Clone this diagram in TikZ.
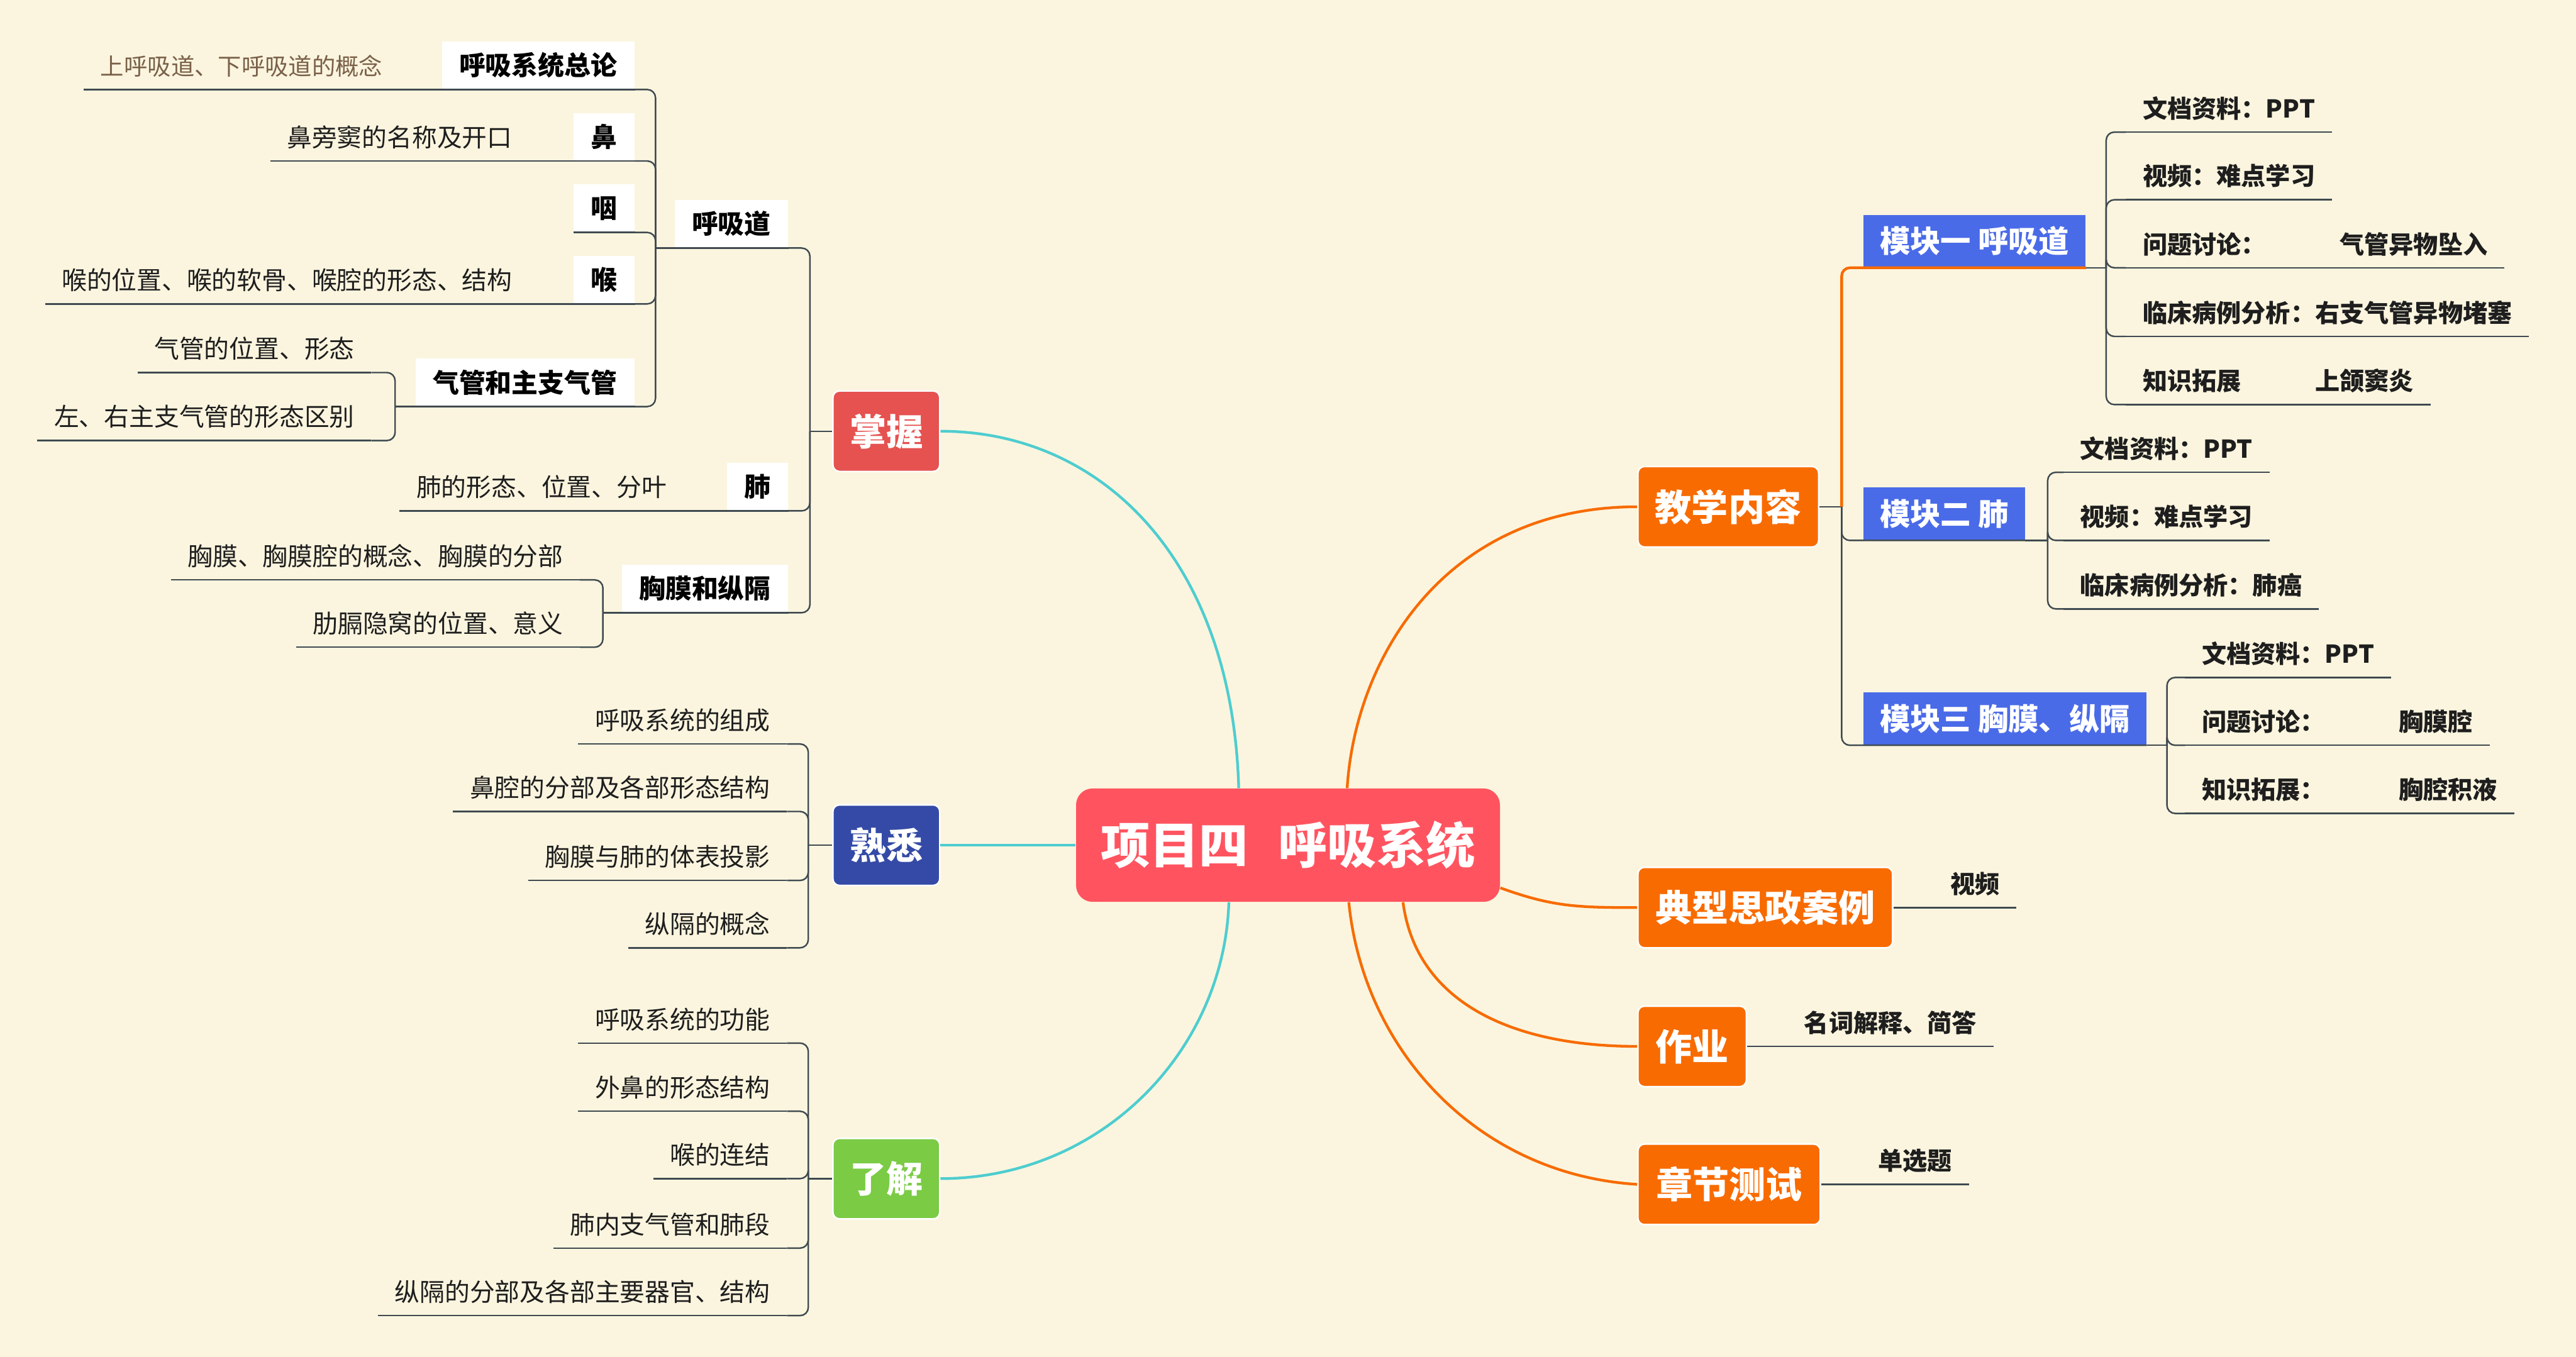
\documentclass[tikz,border=0pt]{standalone}
\usepackage{fontspec}
\setmainfont{Noto Sans CJK SC}
\usetikzlibrary{calc}
\definecolor{bg}{HTML}{FBF5DF}
\definecolor{lc}{HTML}{3F4A50}
\definecolor{cyc}{HTML}{4ECDCF}
\definecolor{orc}{HTML}{F76B00}
\definecolor{cen}{HTML}{FF5460}
\definecolor{zwc}{HTML}{E55250}
\definecolor{sxc}{HTML}{344AA6}
\definecolor{ljc}{HTML}{7BCB45}
\definecolor{ojc}{HTML}{F86B00}
\definecolor{modc}{HTML}{4A6BE8}
\definecolor{txt}{HTML}{1E1E1E}
\definecolor{brn}{HTML}{7A6048}
\tikzset{
  gl/.style={draw=lc, line width=0.8pt},
  conn/.style={draw=lc, line width=0.8pt, rounded corners=0.15cm},
  cy/.style={draw=cyc, line width=1.4pt},
  orl/.style={draw=orc, line width=1.4pt},
  leafL/.style={anchor=south east, inner xsep=0.3cm, inner ysep=0pt, minimum height=0.852cm, font=\fontsize{13pt}{15pt}\selectfont, text=txt},
  leafR/.style={anchor=south west, inner xsep=0.3cm, inner ysep=0pt, minimum height=0.852cm, font=\fontsize{12.8pt}{15pt}\selectfont\bfseries, text=txt},
  tbox/.style={anchor=south east, fill=white, inner xsep=0.315cm, inner ysep=0pt, minimum height=0.87cm, font=\fontsize{13.7pt}{16pt}\selectfont\bfseries, text=black},
  lvl/.style={rounded corners=0.12cm, draw=white, line width=0.8pt, text=white, inner xsep=0.3cm, inner ysep=0pt, minimum height=1.47cm, font=\fontsize{19pt}{22pt}\selectfont\bfseries},
  modbox/.style={anchor=south west, fill=modc, text=white, inner xsep=0.3cm, inner ysep=0pt, minimum height=0.96cm, font=\fontsize{15.8pt}{18pt}\selectfont\bfseries}
}
\begin{document}
\begin{tikzpicture}[x=0.03cm,y=-0.03cm]
\fill[bg] (0,0) rectangle (1568,826);
\useasboundingbox (0,0) rectangle (1568,826);

% central
\node[fill=cen, rounded corners=0.3cm, minimum width=7.74cm, minimum height=2.07cm, inner sep=0pt, text=white, font=\fontsize{25.6pt}{30pt}\selectfont\bfseries] (c) at (784,514.5) {项目四\hspace{0.6em}呼吸系统};

% level-1 left
\node[lvl, fill=zwc, minimum width=1.95cm] (zw) at (539.5,262.5) {掌握};
\node[lvl, fill=sxc, minimum width=1.95cm] (sx) at (539.5,514.5) {熟悉};
\node[lvl, fill=ljc, minimum width=1.95cm] (lj) at (539.5,717.5) {了解};
% level-1 right
\node[lvl, fill=ojc, minimum width=3.3cm] (jx) at (1052,308.5) {教学内容};
\node[lvl, fill=ojc, minimum width=4.65cm] (dx) at (1074.5,552.5) {典型思政案例};
\node[lvl, fill=ojc, minimum width=1.98cm] (zy) at (1030,637) {作业};
\node[lvl, fill=ojc, minimum width=3.33cm] (zc) at (1052.5,721) {章节测试};

% main connectors
\draw[cy] (zw.east) .. controls (670,262.5) and (750,340) .. ($(c.north)+(-30,0)$);
\draw[cy] (sx.east) -- (c.west);
\draw[cy] (lj.east) .. controls (670,717.5) and (745,640) .. ($(c.south)+(-36,0)$);
\draw[orl] ($(c.north)+(36,0)$) .. controls (825,400) and (880,308.5) .. (jx.west);
\draw[orl] ($(c.east)+(0,26)$) .. controls (945,552) and (960,552.5) .. (dx.west);
\draw[orl] ($(c.south)+(70,0)$) .. controls (862,610) and (920,637) .. (zy.west);
\draw[orl] ($(c.south)+(37,0)$) .. controls (830,640) and (900,715) .. (zc.west);

% ---------- 掌握 branch ----------
\node[tbox] (hxd) at (480,151) {呼吸道};
\node[tbox] (fei) at (480,311) {肺};
\node[tbox] (xm) at (480,373) {胸膜和纵隔};
\coordinate (bz) at (493,262.5);
\draw[gl] (zw.west) -- (bz);
\draw[conn] (bz) -- (bz |- hxd.south) -- (hxd.south east);
\draw[conn] (bz) -- (bz |- fei.south) -- (fei.south east);
\draw[conn] (bz) -- (bz |- xm.south) -- (xm.south east);

% 呼吸道 children
\node[tbox] (zl) at (386.5,54.5) {呼吸系统总论};
\node[tbox] (bi) at (386.5,98) {鼻};
\node[tbox] (yan) at (386.5,141.5) {咽};
\node[tbox] (hou) at (386.5,185) {喉};
\node[tbox] (qg) at (386.5,247.5) {气管和主支气管};
\coordinate (bh) at (399,151);
\draw[gl] (hxd.south west) -- (bh);
\foreach \n in {zl,bi,yan,hou,qg}
  \draw[conn] (bh) -- (bh |- \n.south) -- (\n.south east);

% leaves of 呼吸道 children
\node[leafL, text=brn, font=\fontsize{12.2pt}{15pt}\selectfont] (la) at (243,54.5) {上呼吸道、下呼吸道的概念};
\node[leafL] (lb) at (322,98) {鼻旁窦的名称及开口};
\node[leafL] (lc) at (322,185) {喉的位置、喉的软骨、喉腔的形态、结构};
\draw[gl] (la.south east) -- (zl.south west);
\draw[gl] (lb.south east) -- (bi.south west);
\draw[gl] (lc.south east) -- (hou.south west);

\node[leafL] (ld) at (226,226.8) {气管的位置、形态};
\node[leafL] (le) at (226,268.2) {左、右主支气管的形态区别};
\coordinate (bq) at (240.5,247.5);
\draw[gl] (qg.south west) -- (bq);
\draw[conn] (bq) -- (bq |- ld.south) -- (ld.south east);
\draw[conn] (bq) -- (bq |- le.south) -- (le.south east);

\node[leafL] (lf) at (416,311) {肺的形态、位置、分叶};
\draw[gl] (lf.south east) -- (fei.south west);

\node[leafL] (lg) at (353,353) {胸膜、胸膜腔的概念、胸膜的分部};
\node[leafL] (lh) at (353,394) {肋膈隐窝的位置、意义};
\coordinate (bx) at (367,373);
\draw[gl] (xm.south west) -- (bx);
\draw[conn] (bx) -- (bx |- lg.south) -- (lg.south east);
\draw[conn] (bx) -- (bx |- lh.south) -- (lh.south east);

% ---------- 熟悉 branch ----------
\node[leafL] (s1) at (479,452.9) {呼吸系统的组成};
\node[leafL] (s2) at (479,494) {鼻腔的分部及各部形态结构};
\node[leafL] (s3) at (479,536) {胸膜与肺的体表投影};
\node[leafL] (s4) at (479,577) {纵隔的概念};
\coordinate (bs) at (492,514.5);
\draw[gl] (sx.west) -- (bs);
\foreach \n in {s1,s2,s3,s4}
  \draw[conn] (bs) -- (bs |- \n.south) -- (\n.south east);

% ---------- 了解 branch ----------
\node[leafL] (u1) at (479,635) {呼吸系统的功能};
\node[leafL] (u2) at (479,676.5) {外鼻的形态结构};
\node[leafL] (u3) at (479,717.5) {喉的连结};
\node[leafL] (u4) at (479,759.8) {肺内支气管和肺段};
\node[leafL] (u5) at (479,800.9) {纵隔的分部及各部主要器官、结构};
\coordinate (bl) at (492,717.5);
\draw[gl] (lj.west) -- (bl);
\foreach \n in {u1,u2,u3,u4,u5}
  \draw[conn] (bl) -- (bl |- \n.south) -- (\n.south east);

% underlines of left nodes
\foreach \n in {hxd,fei,xm,zl,bi,yan,hou,qg,la,lb,lc,ld,le,lf,lg,lh,s1,s2,s3,s4,u1,u2,u3,u4,u5}
  \draw[gl] (\n.south west) -- (\n.south east);

% ---------- 教学内容 branch ----------
\node[modbox] (m1) at (1134,163) {模块一 呼吸道};
\node[modbox] (m2) at (1134,329) {模块二 肺};
\node[modbox] (m3) at (1134,453.7) {模块三 胸膜、纵隔};
\coordinate (bj) at (1121,308.5);
\draw[gl] (jx.east) -- (bj);
\draw[orl, rounded corners=0.15cm] (bj) -- (bj |- m1.south) -- (m1.south east);
\draw[conn] (bj) -- (bj |- m2.south) -- (m2.south east);
\draw[conn] (bj) -- (bj |- m3.south) -- (m3.south east);

% 模块一 leaves
\node[leafR] (r11) at (1294,80.4) {文档资料：PPT};
\node[leafR] (r12) at (1294,121.6) {视频：难点学习};
\node[leafR] (r13) at (1294,163) {问题讨论：\hspace{3em}气管异物坠入};
\node[leafR] (r14) at (1294,204.8) {临床病例分析：右支气管异物堵塞};
\node[leafR] (r15) at (1294,246.3) {知识拓展\hspace{3em}上颌窦炎};
\coordinate (b1) at (1282,163);
\draw[gl] (m1.south east) -- (b1);
\foreach \n in {r11,r12,r13,r14,r15}
  \draw[conn] (b1) -- (b1 |- \n.south) -- (\n.south west);

% 模块二 leaves
\node[leafR] (r21) at (1256,287.5) {文档资料：PPT};
\node[leafR] (r22) at (1256,329) {视频：难点学习};
\node[leafR] (r23) at (1256,370.7) {临床病例分析：肺癌};
\coordinate (b2) at (1246.4,329);
\draw[gl] (m2.south east) -- (b2);
\foreach \n in {r21,r22,r23}
  \draw[conn] (b2) -- (b2 |- \n.south) -- (\n.south west);

% 模块三 leaves
\node[leafR] (r31) at (1330,412.4) {文档资料：PPT};
\node[leafR] (r32) at (1330,453.7) {问题讨论：\hspace{3em}胸膜腔};
\node[leafR] (r33) at (1330,495.2) {知识拓展：\hspace{3em}胸腔积液};
\coordinate (b3) at (1319,453.7);
\draw[gl] (m3.south east) -- (b3);
\foreach \n in {r31,r32,r33}
  \draw[conn] (b3) -- (b3 |- \n.south) -- (\n.south west);

% other right leaves
\node[leafR] (v1) at (1177,552.5) {视频};
\node[leafR] (v2) at (1088,637) {名词解释、简答};
\node[leafR] (v3) at (1133,721) {单选题};
\draw[gl] (dx.east) -- (v1.south west);
\draw[gl] (zy.east) -- (v2.south west);
\draw[gl] (zc.east) -- (v3.south west);

\foreach \n in {r11,r12,r13,r14,r15,r21,r22,r23,r31,r32,r33,v1,v2,v3}
  \draw[gl] (\n.south west) -- (\n.south east);
\end{tikzpicture}
\end{document}
